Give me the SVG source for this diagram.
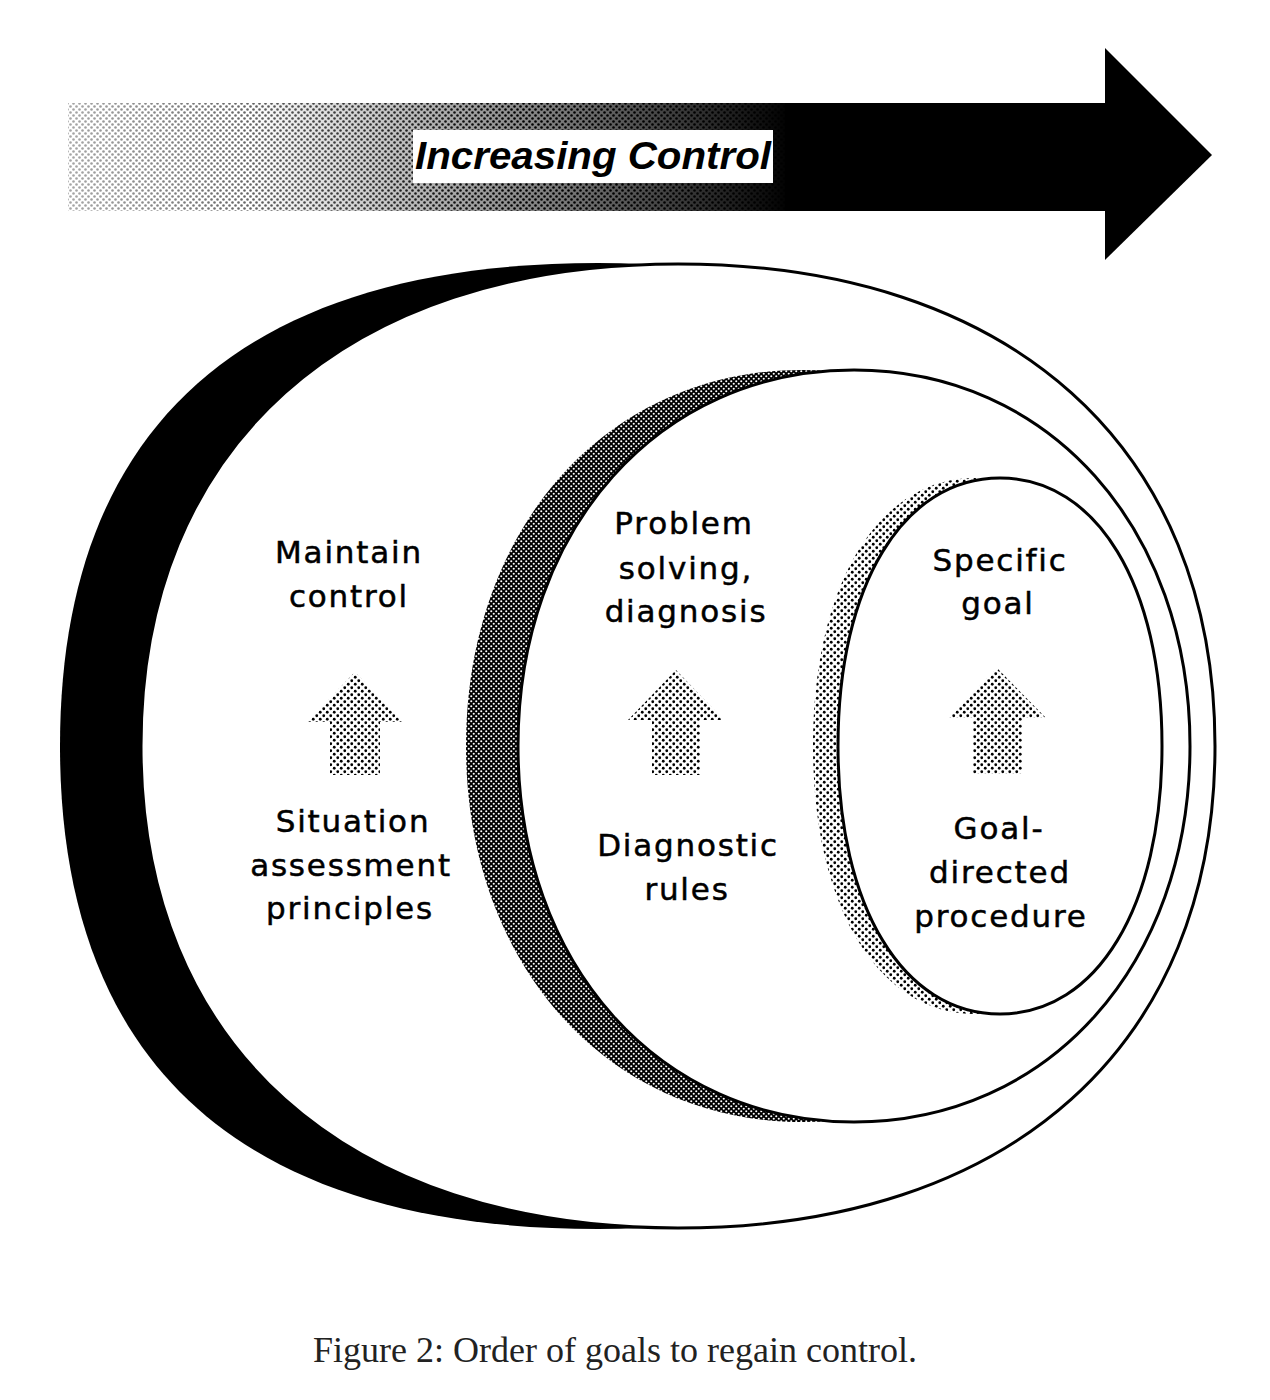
<svg xmlns="http://www.w3.org/2000/svg" width="1270" height="1400" viewBox="0 0 1270 1400">
  <style>
    .lbl { font-family: "DejaVu Sans", "Liberation Sans", sans-serif; font-size: 31px; letter-spacing: 1.8px; fill: #000; stroke: #000; stroke-width: 0.5; text-anchor: middle; }
    .outline { fill: #fff; stroke: #000; stroke-width: 3; }
  </style>
  <defs>
    <pattern id="dots" width="7" height="7" patternUnits="userSpaceOnUse">
      <rect width="7" height="7" fill="#fff"/>
      <circle cx="1.75" cy="1.75" r="1.4" fill="#000"/>
      <circle cx="5.25" cy="5.25" r="1.4" fill="#000"/>
    </pattern>
    <pattern id="dense" width="5" height="5" patternUnits="userSpaceOnUse">
      <rect width="5" height="5" fill="#000"/>
      <circle cx="1.25" cy="1.25" r="1.05" fill="#fff"/>
      <circle cx="3.75" cy="3.75" r="1.05" fill="#fff"/>
    </pattern>
    <pattern id="fine" width="6" height="6" patternUnits="userSpaceOnUse">
      <circle cx="1.5" cy="1.5" r="1.3" fill="#000"/>
      <circle cx="4.5" cy="4.5" r="1.3" fill="#000"/>
    </pattern>
    <linearGradient id="fadeMask" gradientUnits="userSpaceOnUse" x1="68" y1="0" x2="520" y2="0">
      <stop offset="0" stop-color="#fff" stop-opacity="0.35"/>
      <stop offset="1" stop-color="#fff" stop-opacity="1"/>
    </linearGradient>
    <mask id="shaftMask" maskUnits="userSpaceOnUse" x="0" y="0" width="1270" height="300">
      <rect x="68" y="103" width="1040" height="108" fill="url(#fadeMask)"/>
    </mask>
    <linearGradient id="darken" gradientUnits="userSpaceOnUse" x1="250" y1="0" x2="790" y2="0">
      <stop offset="0" stop-color="#000" stop-opacity="0"/>
      <stop offset="0.6" stop-color="#000" stop-opacity="0.55"/>
      <stop offset="1" stop-color="#000" stop-opacity="1"/>
    </linearGradient>
  </defs>

  <g id="increasing-control-arrow">
    <rect x="68" y="103" width="1040" height="108" fill="url(#fine)" mask="url(#shaftMask)"/>
    <rect x="68" y="103" width="1040" height="108" fill="url(#darken)"/>
    <rect x="785" y="103" width="322" height="108" fill="#000"/>
    <polygon points="1105,48 1212,155 1105,260" fill="#000"/>
    <rect x="413" y="130" width="360" height="53" fill="#fff"/>
    <text x="415" y="169" font-family="'Liberation Sans', Arial, sans-serif" font-size="39" font-weight="bold" font-style="italic" textLength="356" lengthAdjust="spacingAndGlyphs" fill="#000">Increasing Control</text>
  </g>

  <g id="outer-level">
    <path d="M1136,746 C1136,1065 953,1229 598,1229 C243,1229 60,1065 60,746 C60,427 243,263 598,263 C953,263 1136,427 1136,746 Z" fill="#000"/>
    <path class="outline" d="M1215,746 C1215,1045 1011,1228 678,1228 C345,1228 141,1045 141,746 C141,447 345,264 678,264 C1011,264 1215,447 1215,746 Z"/>
    <text class="lbl" x="349" y="563">Maintain</text>
    <text class="lbl" x="349" y="607">control</text>
    <polygon points="355,672 402,722 380,722 380,775 330,775 330,722 307,722" fill="url(#dots)"/>
    <text class="lbl" x="353" y="832">Situation</text>
    <text class="lbl" x="351" y="876">assessment</text>
    <text class="lbl" x="350" y="919">principles</text>
  </g>

  <g id="middle-level">
    <path d="M1138,746 C1138,964 997,1122 802,1122 C607,1122 466,964 466,746 C466,528 607,370 802,370 C997,370 1138,528 1138,746 Z" fill="url(#dense)"/>
    <path class="outline" d="M1190,746 C1190,964 1049,1122 854,1122 C659,1122 518,964 518,746 C518,528 659,370 854,370 C1049,370 1190,528 1190,746 Z"/>
    <text class="lbl" x="684" y="534">Problem</text>
    <text class="lbl" x="686" y="579">solving,</text>
    <text class="lbl" x="686" y="622">diagnosis</text>
    <polygon points="676,670 724,720 700,720 700,775 652,775 652,720 628,720" fill="url(#dots)"/>
    <text class="lbl" x="688" y="856">Diagnostic</text>
    <text class="lbl" x="687" y="900">rules</text>
  </g>

  <g id="inner-level">
    <path d="M1137,746 C1137,907 1072,1014 975,1014 C878,1014 813,907 813,746 C813,585 878,478 975,478 C1072,478 1137,585 1137,746 Z" fill="url(#dots)"/>
    <path class="outline" d="M1162,746 C1162,907 1097,1014 1000,1014 C903,1014 838,907 838,746 C838,585 903,478 1000,478 C1097,478 1162,585 1162,746 Z"/>
    <text class="lbl" x="1000" y="571">Specific</text>
    <text class="lbl" x="998" y="614">goal</text>
    <polygon points="997,668 1046,718 1022,718 1022,774 973,774 973,718 948,718" fill="url(#dots)"/>
    <text class="lbl" x="999" y="839">Goal-</text>
    <text class="lbl" x="1000" y="883">directed</text>
    <text class="lbl" x="1001" y="927">procedure</text>
  </g>

  <text x="615" y="1362" font-family="'Liberation Serif', 'Times New Roman', serif" font-size="36" fill="#222" text-anchor="middle">Figure 2: Order of goals to regain control.</text>
</svg>
